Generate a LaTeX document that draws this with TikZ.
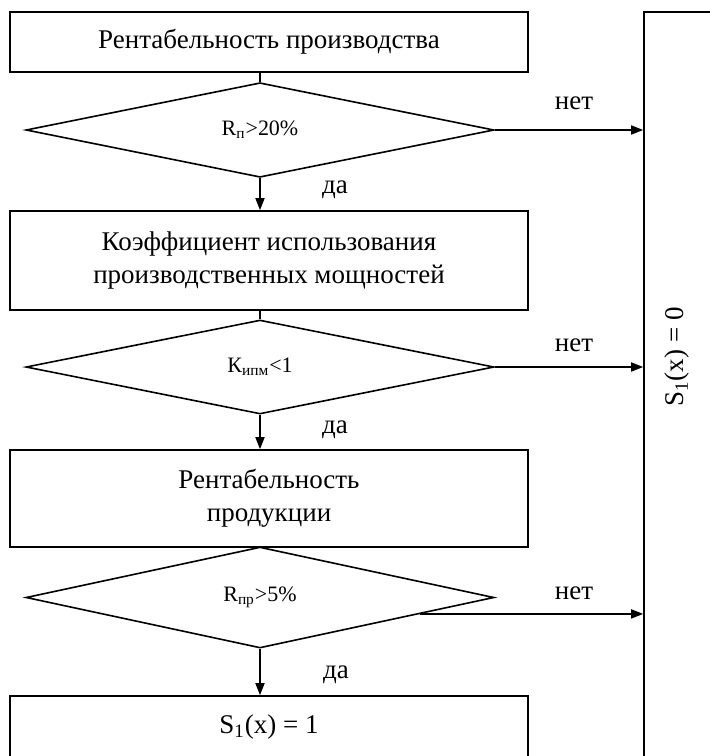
\documentclass[tikz,border=0pt]{standalone}
\usepackage{fontspec}
\setmainfont{Liberation Serif}
\usetikzlibrary{shapes.geometric,arrows.meta,calc}

\begin{document}
\begin{tikzpicture}[x=0.5pt,y=-0.5pt, line width=0.8pt,
  every node/.style={font=\fontsize{13.5}{16.5}\selectfont},
  blok/.style={draw, rectangle, minimum width=259pt, align=center, inner sep=0pt},
  romb/.style={draw, diamond, minimum width=234pt, minimum height=47pt, inner sep=0pt, font=\fontsize{11}{13}\selectfont},
  strelka/.style={-{Triangle[length=6pt,width=4.5pt]}}]
\useasboundingbox (0,0) rectangle (710,756);
\clip (0,0) rectangle (710,756);

\node[blok, minimum height=30pt] (b1) at (269,42) {Рентабельность производства};
\node[romb] (d1) at (260,130) {R\textsubscript{п}>20\%};
\node[blok, minimum height=49.5pt] (b2) at (269,260.5) {Коэффициент использования\\производственных мощностей};
\node[romb] (d2) at (260,367) {К\textsubscript{ипм}<1};
\node[blok, minimum height=48.5pt] (b3) at (269,498.5) {Рентабельность\\продукции};
\node[romb, minimum height=50.5pt] (d3) at (260,597.5) {R\textsubscript{пр}>5\%};
\node[blok, minimum height=31pt] (b4) at (269,727) {S\textsubscript{1}(x) = 1};

% right column
\node[draw, minimum width=68pt, minimum height=394pt, inner sep=0pt] (res) at (712,406) {};
\node[rotate=90] (resl) at (677,357) {S\textsubscript{1}(x) = 0};

% yes branch
\draw (d1.north) -- (d1.north |- b1.south);
\draw[strelka] (d1.south) -- (d1.south |- b2.north);
\draw (d2.north) -- (d2.north |- b2.south);
\draw[strelka] (d2.south) -- (d2.south |- b3.north);
\draw[strelka] (d3.south) -- (d3.south |- b4.north);

% no branch
\draw[strelka] (d1.east) -- (d1.east -| res.west);
\draw[strelka] (d2.east) -- (d2.east -| res.west);
\coordinate (n3) at ($(d3.east)!0.32!(d3.south)$);
\draw[strelka] (n3) -- (n3 -| res.west);

\node (net1) at (574,103) {нет};
\node (net2) at (574,345) {нет};
\node (net3) at (574,593) {нет};
\node (da1) at (335,190) {да};
\node (da2) at (335,430) {да};
\node (da3) at (336,675) {да};
\end{tikzpicture}
\end{document}
